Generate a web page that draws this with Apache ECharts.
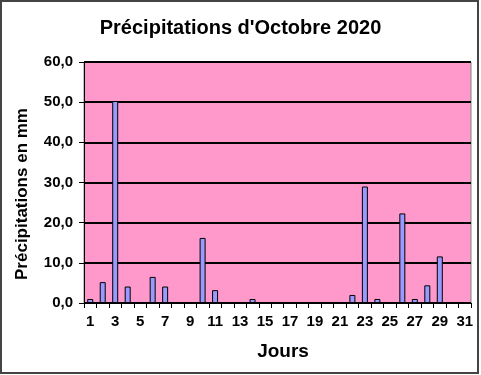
<!DOCTYPE html>
<html><head><meta charset="utf-8">
<script src="https://cdn.jsdelivr.net/npm/echarts@6/dist/echarts.min.js"></script>
<style>html,body{margin:0;padding:0;background:#fff}#c{width:481px;height:375px}</style>
</head><body><div id="c"></div>
<script>
const days = Array.from({length:31},(_,i)=>String(i+1));
const rain = [1.0,5.2,50.3,4.1,0,6.5,4.1,0,0,16.2,3.2,0,0,1.0,0,0,0,0,0,0,0,2.0,29.0,1.0,0,22.3,1.0,4.4,11.6,0,0];
const yTicks = {min:0,max:60,interval:10};
const titleText = "Précipitations d'Octobre 2020";
const yName = "Précipitations en mm";
const xName = "Jours";
const font = "'Liberation Sans', Arial, sans-serif";
const chart = echarts.init(document.getElementById('c'));
chart.setOption({
  animation:false,
  backgroundColor:'#fff',
  title:{text:titleText,left:'center',top:13,textStyle:{fontFamily:font,fontSize:20,fontWeight:'bold',color:'#000'}},
  grid:{left:84,right:10,top:62,bottom:72,show:true,backgroundColor:'#FF99CC',borderColor:'#808080',borderWidth:1},
  xAxis:{type:'category',data:days,
    axisLine:{lineStyle:{color:'#000',width:1}},
    axisTick:{show:true,interval:0,length:5,lineStyle:{color:'#000'}},
    axisLabel:{interval:1,fontFamily:font,fontSize:15,fontWeight:'bold',color:'#000',margin:11}},
  yAxis:{type:'value',min:yTicks.min,max:yTicks.max,interval:yTicks.interval,
    axisLine:{show:true,lineStyle:{color:'#000',width:1}},
    axisTick:{show:true,length:5,lineStyle:{color:'#000'}},
    splitLine:{show:true,lineStyle:{color:'#000',width:2}},
    axisLabel:{fontFamily:font,fontSize:15,fontWeight:'bold',color:'#000',margin:11,
      formatter:v=>v.toFixed(1).replace('.',',')}},
  series:[{type:'bar',data:rain,barWidth:6,
    itemStyle:{color:'#9999FF',borderColor:'#000',borderWidth:1}}],
  graphic:[
    {type:'text',x:22,y:194,rotation:Math.PI/2,style:{text:yName,fontFamily:font,fontSize:17,fontWeight:'bold',fill:'#000',textAlign:'center',textVerticalAlign:'middle'}},
    {type:'text',x:283,y:352,style:{text:xName,fontFamily:font,fontSize:19,fontWeight:'bold',fill:'#000',textAlign:'center',textVerticalAlign:'middle'}},
    {type:'rect',shape:{x:1,y:1,width:477,height:372},style:{fill:'none',stroke:'#444',lineWidth:2},z:100}]
});
</script></body></html>
